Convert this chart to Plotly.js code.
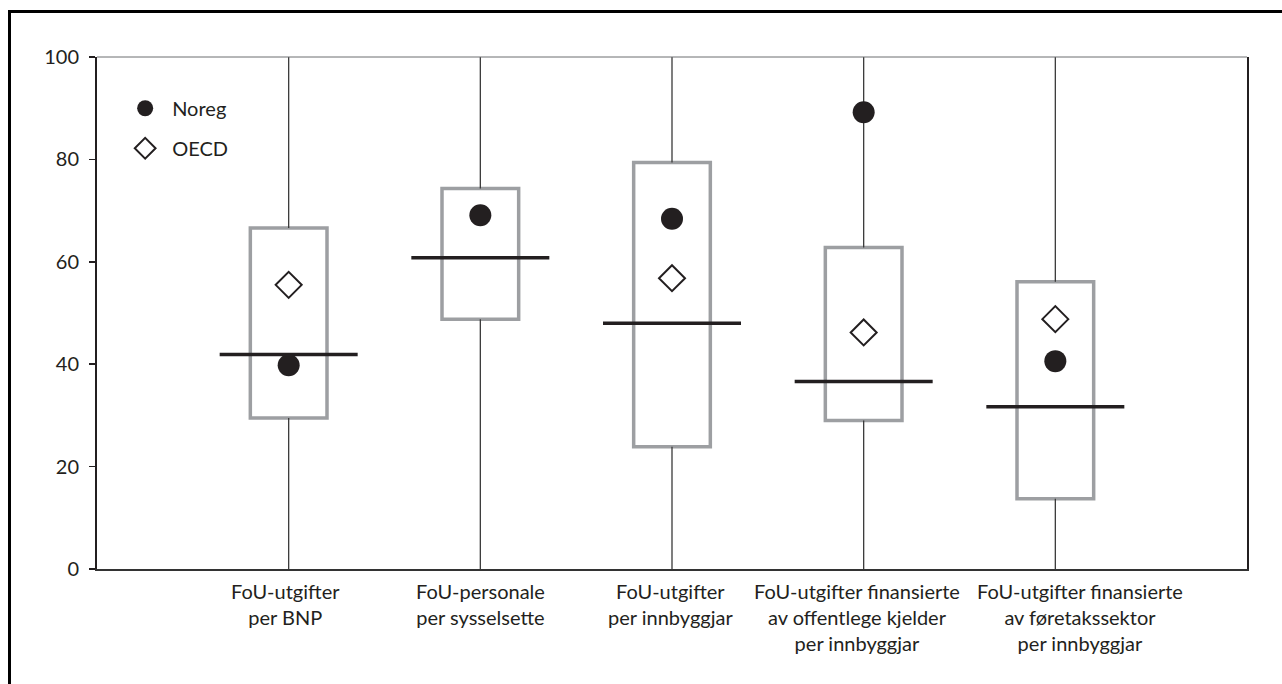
<!DOCTYPE html>
<html>
<head>
<meta charset="utf-8">
<script src="https://cdn.plot.ly/plotly-3.0.1.min.js"></script>
<style>
  html, body { margin: 0; padding: 0; background: #fff; }
  #frame { position: absolute; left: 8px; top: 10px; width: 1400px; height: 800px;
           border-left: 3px solid #000; border-top: 3px solid #000; }
  #chart { position: absolute; left: 0; top: 0; width: 1282px; height: 684px; }
</style>
</head>
<body>
<div id="frame"></div>
<div id="chart"></div>
<script>
// ---- Data ----
const categories = [
  "FoU-utgifter<br>per BNP",
  "FoU-personale<br>per sysselsette",
  "FoU-utgifter<br>per innbyggjar",
  "FoU-utgifter finansierte<br>av offentlege kjelder<br>per innbyggjar",
  "FoU-utgifter finansierte<br>av føretakssektor<br>per innbyggjar"
];
const q1Values     = [29.5, 48.8, 23.9, 29.0, 13.7];
const q3Values     = [66.6, 74.3, 79.4, 62.8, 56.1];
const medianValues = [41.9, 60.8, 48.0, 36.6, 31.7];
const lowValues    = [0, 0, 0, 0, 0];
const highValues   = [100, 100, 100, 100, 100];
const noregValues  = [39.8, 69.1, 68.4, 89.2, 40.6];
const oecdValues   = [55.5, null, 56.8, 46.2, 48.8];
const yTicks = [0, 20, 40, 60, 80, 100];

// ---- Layout helpers (pixel nudges of the category labels, as in the original) ----
const labelShiftPx = [-3, 0, -2, -7, 25];

// ---- Build traces ----
const idx = categories.map((_, i) => i);
const BOX_W = 0.40;
const MED_HALF = 0.36;
const ink = "#231f20";

const wx = [], wy = [];
idx.forEach(i => {
  wx.push(i, i, null, i, i, null);
  wy.push(lowValues[i], q1Values[i], null, q3Values[i], highValues[i], null);
});
const mx = [], my = [];
idx.forEach(i => {
  mx.push(i - MED_HALF, i + MED_HALF, null);
  my.push(medianValues[i], medianValues[i], null);
});

const traces = [
  {
    type: "bar", x: idx, base: q1Values,
    y: idx.map(i => q3Values[i] - q1Values[i]),
    width: BOX_W,
    marker: { color: "#ffffff", line: { color: "#9d9fa2", width: 3.5 } },
    showlegend: false, hoverinfo: "skip"
  },
  {
    type: "scatter", mode: "lines", x: wx, y: wy,
    line: { color: "#3a3a3a", width: 1.3 }, connectgaps: false,
    showlegend: false, hoverinfo: "skip"
  },
  {
    type: "scatter", mode: "lines", x: mx, y: my,
    line: { color: ink, width: 3.5 }, connectgaps: false,
    showlegend: false, hoverinfo: "skip"
  },
  {
    type: "scatter", mode: "markers", name: "Noreg", x: idx, y: noregValues,
    legendgroup: "a",
    marker: { symbol: "circle", size: 22, color: ink, line: { width: 0 } }
  },
  {
    type: "scatter", mode: "markers", name: "OECD", x: idx, y: oecdValues,
    legendgroup: "b",
    marker: { symbol: "diamond", size: 20, color: "#ffffff", line: { color: ink, width: 2 } }
  }
];

const font = "Lato, 'Open Sans', sans-serif";

const annotations = idx.map(i => ({
  x: i, xref: "x", y: 0, yref: "paper",
  xanchor: "center", yanchor: "top", yshift: -8, xshift: labelShiftPx[i],
  text: categories[i], showarrow: false, align: "center",
  font: { family: font, size: 20, color: ink }
}));

const layout = {
  width: 1282, height: 684,
  margin: { l: 97, r: 35, t: 57, b: 115 },
  paper_bgcolor: "rgba(0,0,0,0)",
  plot_bgcolor: "#ffffff",
  font: { family: font, size: 20, color: ink },
  barmode: "overlay",
  showlegend: true,
  legend: {
    x: 0.0184, y: 0.938, xanchor: "left", yanchor: "top",
    bgcolor: "rgba(0,0,0,0)", borderwidth: 0,
    font: { family: font, size: 20, color: ink },
    traceorder: "grouped", tracegroupgap: 11, itemwidth: 44
  },
  annotations: annotations,
  shapes: [{
    type: "line", xref: "paper", yref: "paper", x0: 0, x1: 1, y0: 1, y1: 1,
    line: { color: "#6d6e71", width: 1 }
  }],
  xaxis: {
    range: [-1, 5], tickvals: idx, showticklabels: false,
    showgrid: false, zeroline: false,
    showline: true, linecolor: "#333333", linewidth: 1.5, mirror: false,
    ticks: ""
  },
  yaxis: {
    range: [0, 100], tickvals: yTicks,
    showgrid: false, zeroline: false,
    showline: true, linecolor: ink, linewidth: 2, mirror: true,
    ticks: "outside", ticklen: 6, tickwidth: 1.5, tickcolor: ink,
    ticklabelstandoff: 6,
    tickfont: { family: font, size: 20, color: ink }
  }
};

Plotly.newPlot("chart", traces, layout, { displayModeBar: false, staticPlot: true });
</script>
</body>
</html>
